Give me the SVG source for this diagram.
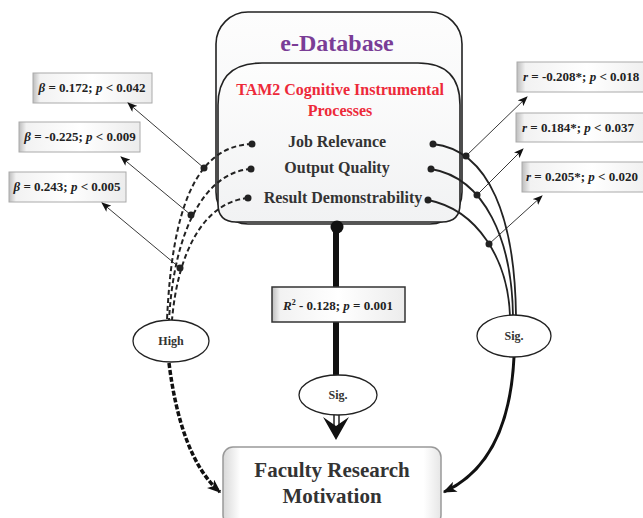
<svg xmlns="http://www.w3.org/2000/svg" width="643" height="518" viewBox="0 0 643 518">
<defs>
<linearGradient id="boxg" x1="0" y1="0" x2="1" y2="0">
<stop offset="0" stop-color="#bdbdbd"/>
<stop offset="0.06" stop-color="#f2f2f2"/>
<stop offset="0.5" stop-color="#ffffff"/>
<stop offset="1" stop-color="#ececec"/>
</linearGradient>
<linearGradient id="dbg" x1="0" y1="0" x2="0" y2="1">
<stop offset="0" stop-color="#fdfdfd"/>
<stop offset="1" stop-color="#f1f2f3"/>
</linearGradient>
<linearGradient id="frmg" x1="0" y1="0" x2="1" y2="0">
<stop offset="0" stop-color="#d8d8d8"/>
<stop offset="0.08" stop-color="#ffffff"/>
<stop offset="0.92" stop-color="#ffffff"/>
<stop offset="1" stop-color="#e6e6e6"/>
</linearGradient>
<marker id="sa" viewBox="0 0 10 8" refX="9" refY="4" markerWidth="10" markerHeight="8" markerUnits="userSpaceOnUse" orient="auto">
<path d="M0,0 L10,4 L0,8 L2.5,4 z" fill="#111"/>
</marker>
<marker id="ba" viewBox="0 0 10 8" refX="9" refY="4" markerWidth="14" markerHeight="11" markerUnits="userSpaceOnUse" orient="auto">
<path d="M0,0 L10,4 L0,8 L2.5,4 z" fill="#111"/>
</marker>
<style>
.t{font-family:"Liberation Serif","Times New Roman",serif;font-weight:bold;fill:#333;}
.lbl{font-family:"Liberation Serif","Times New Roman",serif;font-weight:bold;font-size:13px;fill:#222;}
.i{font-style:italic;}
.box{fill:url(#boxg);stroke:#aaa;stroke-width:1;}
.ell{fill:#fff;stroke:#222;stroke-width:1.3;}
.dash{fill:none;stroke:#222;stroke-width:2;stroke-dasharray:5 3;}
.sol{fill:none;stroke:#222;stroke-width:1.8;}
.thin{fill:none;stroke:#222;stroke-width:0.9;marker-end:url(#sa);}
.dot{fill:#222;}
</style>
</defs>

<g id="e-database">
<rect x="216" y="12" width="246" height="212" rx="32" fill="url(#dbg)" stroke="#222" stroke-width="1.6"/>
<path d="M218,105 Q218,63 262,63 L418,63 Q460,63 460,105 L460,204 Q460,222 442,222 L236,222 Q218,222 218,204 Z" fill="url(#dbg)" stroke="#222" stroke-width="1.6"/>
<text class="t" x="337" y="51" font-size="24" text-anchor="middle" style="fill:#7a3d96">e-Database</text>
<text class="t" x="340" y="95" font-size="16" text-anchor="middle" style="fill:#ed2939">TAM2 Cognitive Instrumental</text>
<text class="t" x="340" y="116" font-size="16" text-anchor="middle" style="fill:#ed2939">Processes</text>
<text class="t" x="337" y="147" font-size="16" text-anchor="middle">Job Relevance</text>
<text class="t" x="337" y="173" font-size="16" text-anchor="middle">Output Quality</text>
<text class="t" x="343" y="203" font-size="16" text-anchor="middle">Result Demonstrability</text>
</g>

<g id="beta1">
<rect class="box" x="33" y="73" width="119" height="30"/>
<text class="lbl" x="92" y="92" text-anchor="middle"><tspan class="i">β</tspan> = 0.172; <tspan class="i">p</tspan> &lt; 0.042</text>
</g>
<g id="beta2">
<rect class="box" x="19" y="122" width="121" height="30"/>
<text class="lbl" x="80" y="141" text-anchor="middle"><tspan class="i">β</tspan> = -0.225; <tspan class="i">p</tspan> &lt; 0.009</text>
</g>
<g id="beta3">
<rect class="box" x="9" y="172" width="117" height="30"/>
<text class="lbl" x="67" y="191" text-anchor="middle"><tspan class="i">β</tspan> = 0.243; <tspan class="i">p</tspan> &lt; 0.005</text>
</g>

<g id="r1">
<rect class="box" x="517" y="62" width="140" height="30"/>
<text class="lbl" x="523" y="81"><tspan class="i">r</tspan> = -0.208*; <tspan class="i">p</tspan> &lt; 0.018</text>
</g>
<g id="r2">
<rect class="box" x="516" y="113" width="140" height="29"/>
<text class="lbl" x="522" y="132"><tspan class="i">r</tspan> = 0.184*; <tspan class="i">p</tspan> &lt; 0.037</text>
</g>
<g id="r3">
<rect class="box" x="522" y="162" width="140" height="30"/>
<text class="lbl" x="526" y="181"><tspan class="i">r</tspan> = 0.205*; <tspan class="i">p</tspan> &lt; 0.020</text>
</g>

<g id="connectors">
<path class="dash" d="M252,144 C195,146 172,210 167,320"/>
<path class="dash" d="M251,169 C205,172 174,230 169,320"/>
<path class="dash" d="M248,198 C205,202 178,250 172,320"/>
<path class="sol" d="M433,144 C490,150 515,220 516,316"/>
<path class="sol" d="M431,169 C485,178 512,240 513,316"/>
<path class="sol" d="M428,200 C478,210 508,260 510,316"/>
<line class="thin" x1="204" y1="168" x2="128" y2="103"/>
<line class="thin" x1="191" y1="215" x2="121" y2="157"/>
<line class="thin" x1="180" y1="268" x2="102" y2="203"/>
<line class="thin" x1="466" y1="156" x2="527" y2="97"/>
<line class="thin" x1="477" y1="195" x2="523" y2="149"/>
<line class="thin" x1="489" y1="244" x2="542" y2="196"/>
<circle class="dot" cx="252" cy="144" r="3.5"/>
<circle class="dot" cx="251" cy="169" r="3.5"/>
<circle class="dot" cx="248" cy="198" r="3.5"/>
<circle class="dot" cx="433" cy="144" r="3.5"/>
<circle class="dot" cx="431" cy="169" r="3.5"/>
<circle class="dot" cx="428" cy="200" r="3.5"/>
<circle class="dot" cx="204" cy="168" r="3.5"/>
<circle class="dot" cx="191" cy="215" r="3.5"/>
<circle class="dot" cx="180" cy="268" r="3.5"/>
<circle class="dot" cx="466" cy="156" r="3.5"/>
<circle class="dot" cx="477" cy="195" r="3.5"/>
<circle class="dot" cx="489" cy="244" r="3.5"/>
<line x1="336" y1="227" x2="336" y2="376" stroke="#111" stroke-width="6"/>
<circle class="dot" cx="337" cy="227" r="6.5" style="fill:#111"/>
<line x1="334" y1="414" x2="334" y2="428" stroke="#222" stroke-width="1.5"/>
<line x1="339" y1="414" x2="339" y2="428" stroke="#222" stroke-width="1.5"/>
<path d="M323,417 L336,440 L349,417 L336,426 Z" fill="#111"/>
<path d="M169,363 C176,420 192,468 220,492" fill="none" stroke="#111" stroke-width="3.5" stroke-dasharray="5 2" marker-end="url(#ba)"/>
<path d="M514,357 C511,420 492,470 444,492" fill="none" stroke="#111" stroke-width="3" marker-end="url(#ba)"/>
</g>

<g id="r2-label">
<rect x="272" y="287" width="133" height="35" fill="url(#boxg)" stroke="#333" stroke-width="1.5"/>
<text class="lbl" x="338" y="310" text-anchor="middle"><tspan class="i">R</tspan><tspan font-size="8" dy="-5">2</tspan><tspan dy="5"> - 0.128; </tspan><tspan class="i">p</tspan> = 0.001</text>
</g>

<g id="high">
<ellipse class="ell" cx="171" cy="341" rx="38" ry="21"/>
<text class="t" x="171" y="345" font-size="12" text-anchor="middle">High</text>
</g>
<g id="sig-center">
<ellipse class="ell" cx="338" cy="395" rx="39" ry="20"/>
<text class="t" x="338" y="399" font-size="12" text-anchor="middle">Sig.</text>
</g>
<g id="sig-right">
<ellipse class="ell" cx="514" cy="336" rx="37" ry="21"/>
<text class="t" x="514" y="340" font-size="12" text-anchor="middle">Sig.</text>
</g>

<g id="frm">
<rect x="223" y="447" width="218" height="78" rx="10" fill="url(#frmg)" stroke="#999" stroke-width="1.5"/>
<text class="t" x="332" y="477" font-size="21" text-anchor="middle">Faculty Research</text>
<text class="t" x="332" y="503" font-size="21" text-anchor="middle">Motivation</text>
</g>
</svg>
